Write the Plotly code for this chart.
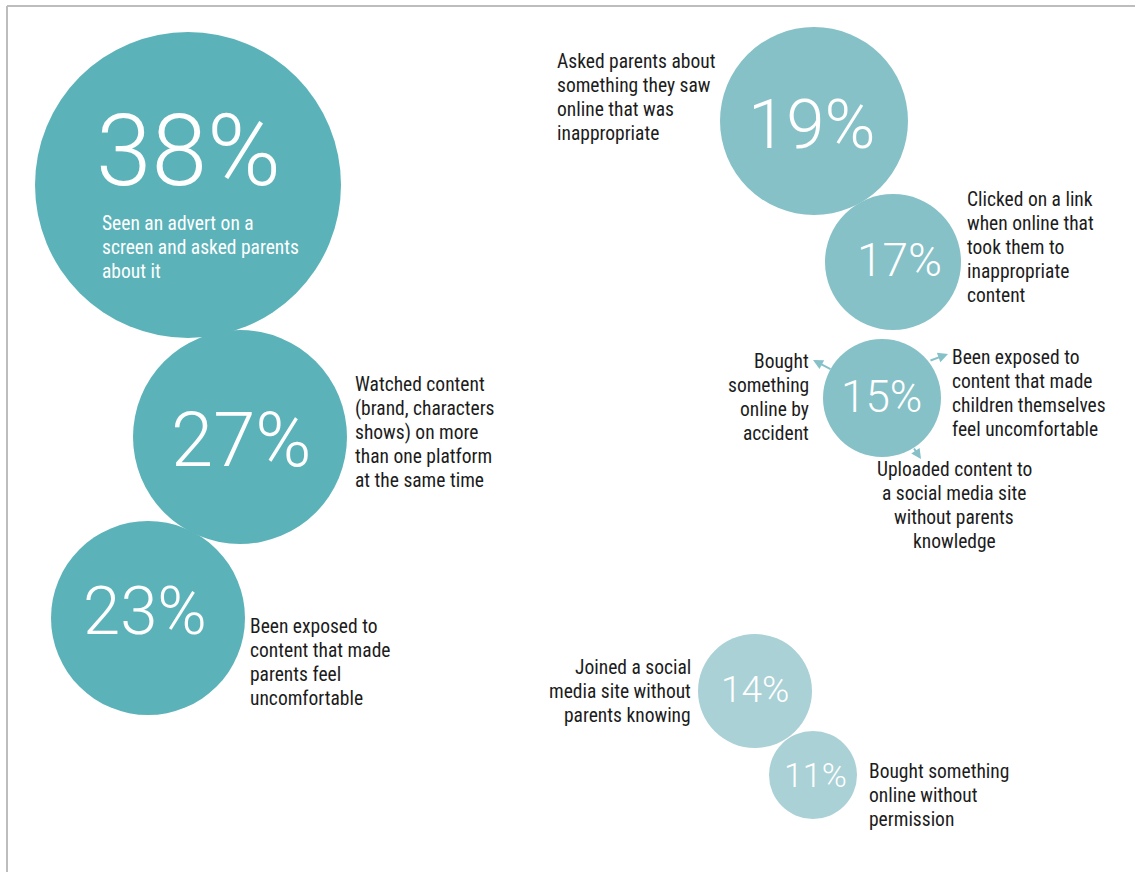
import plotly.graph_objects as go

# Share of children (%) for each online behaviour
values = [38, 27, 23, 19, 17, 15, 14, 11]
descriptions = [
    "Seen an advert on a<br>screen and asked parents<br>about it",
    "Watched content<br>(brand, characters<br>shows) on more<br>than one platform<br>at the same time",
    "Been exposed to<br>content that made<br>parents feel<br>uncomfortable",
    "Asked parents about<br>something they saw<br>online that was<br>inappropriate",
    "Clicked on a link<br>when online that<br>took them to<br>inappropriate<br>content",
    "Bought<br>something<br>online by<br>accident",
    "Joined a social<br>media site without<br>parents knowing",
    "Bought something<br>online without<br>permission",
]
# Two further behaviours that share the 15% bubble
shared_15 = [
    "Been exposed to<br>content that made<br>children themselves<br>feel uncomfortable",
    "Uploaded content to<br>a social media site<br>without parents<br>knowledge",
]

# Bubble layout (pixel space of the canvas)
cx = [188, 240, 148, 814, 893, 882, 755, 813]
cy = [185, 437, 618, 121, 262, 398, 691, 775]
radius = [153, 107, 97, 94, 68, 59, 57, 44]
fills = ["#5bb3b9"] * 3 + ["#86c1c7"] * 3 + ["#aad1d6"] * 2

pct_x = [188, 241, 145, 812, 899, 881, 755, 815]
pct_y = [150, 440, 611, 124, 260, 397, 689, 775]
pct_size = [100, 76, 67, 69, 46, 44, 37, 34]

# First-line anchor of every description
lab_x = [102, 355, 250, 557, 967, 809, 691, 869]
lab_y = [223, 384, 626, 61, 199, 361, 667, 771]
lab_anchor = ["left", "left", "left", "left", "left", "right", "right", "left"]

shared_x = [952, 954]
shared_y = [357, 469]
shared_anchor = ["left", "center"]

W, H = 1135, 872
LINE_STEP = 24
PAD_SHIFT = {"left": -2, "right": 2, "center": 0}
LABEL_FONT = "Roboto Condensed, Liberation Sans Narrow, DejaVu Sans Condensed, Roboto, sans-serif"
PCT_FONT = "Roboto, Liberation Sans, sans-serif"

fig = go.Figure()
fig.add_trace(go.Scatter(
    x=cx, y=cy, mode="markers",
    marker=dict(size=[2 * r for r in radius], sizemode="diameter",
                color=fills, opacity=1, line=dict(width=0)),
    hoverinfo="skip", showlegend=False,
))

annotations = []
for v, x, y, s in zip(values, pct_x, pct_y, pct_size):
    annotations.append(dict(
        x=x, y=y, text=f"{v}%", showarrow=False, xanchor="center", yanchor="middle",
        font=dict(family=PCT_FONT, size=s, color="white", weight=300),
    ))


def add_label(text, x, y, anchor, color):
    # one annotation per line keeps the line pitch fixed
    for i, line in enumerate(text.split("<br>")):
        annotations.append(dict(
            x=x + PAD_SHIFT[anchor], y=y + i * LINE_STEP, text=line, showarrow=False,
            xanchor=anchor, yanchor="middle", align=anchor,
            font=dict(family=LABEL_FONT, size=19.5, color=color),
        ))


for i, (t, x, y, a) in enumerate(zip(descriptions, lab_x, lab_y, lab_anchor)):
    add_label(t, x, y, a, "white" if i == 0 else "#1c1c1c")
for t, x, y, a in zip(shared_15, shared_x, shared_y, shared_anchor):
    add_label(t, x, y, a, "#1c1c1c")

# Pointers from the 15% bubble to its three labels
for (tx, ty, hx, hy) in [(832, 370, 813, 360), (929, 361, 948, 354), (913, 447, 921, 459)]:
    annotations.append(dict(
        x=hx, y=hy, ax=tx, ay=ty, xref="x", yref="y", axref="x", ayref="y",
        text="", showarrow=True, arrowhead=2, arrowsize=1, arrowwidth=2,
        arrowcolor="#86c1c7",
    ))

# Thin frame along the top and left edges
shapes = [
    dict(type="line", xref="x", yref="y", x0=7, x1=W, y0=6, y1=6,
         line=dict(color="#bdbdbd", width=2)),
    dict(type="line", xref="x", yref="y", x0=7, x1=7, y0=6, y1=H,
         line=dict(color="#bdbdbd", width=2)),
]

fig.update_layout(
    width=W, height=H,
    margin=dict(l=0, r=0, t=0, b=0),
    paper_bgcolor="white", plot_bgcolor="white",
    xaxis=dict(range=[0, W], visible=False, fixedrange=True),
    yaxis=dict(range=[H, 0], visible=False, fixedrange=True),
    annotations=annotations, shapes=shapes,
    showlegend=False,
)

fig.write_html("out.html", config=dict(displayModeBar=False))
